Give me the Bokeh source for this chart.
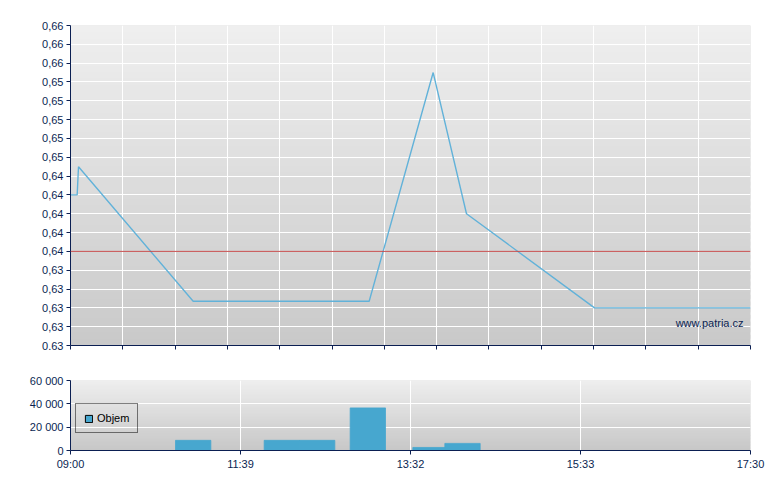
from bokeh.plotting import figure
from bokeh.layouts import column
from bokeh.models import FixedTicker, Span, Label, Legend, LegendItem, Range1d
from bokeh.embed import file_html
from bokeh.resources import INLINE

# ---------------- data ----------------
# time in minutes after 09:00
price_time = [0, 5, 6, 92, 224, 272, 297, 393, 510]
price = [0.642, 0.642, 0.645, 0.6307, 0.6307, 0.655, 0.640, 0.630, 0.630]
prev_close = 0.636

vol_time = [92, 158.5, 185, 223, 270, 294]
volume = [8700, 8700, 8700, 36500, 2600, 6100]
vol_bar_width = 26.5

price_ticks = [0.626, 0.628, 0.630, 0.632, 0.634, 0.636, 0.638, 0.640, 0.642,
               0.644, 0.646, 0.648, 0.650, 0.652, 0.654, 0.656, 0.658, 0.660]
price_tick_labels = ["0.63", "0,63", "0,63", "0,63", "0,63", "0,64", "0,64", "0,64", "0,64",
                     "0,64", "0,65", "0,65", "0,65", "0,65", "0,65", "0,66", "0,66", "0,66"]

vol_ticks = [0, 20000, 40000, 60000]
vol_tick_labels = ["0", "20 000", "40 000", "60 000"]

time_ticks = [0, 127.5, 255, 382.5, 510]
time_tick_labels = ["09:00", "11:39", "13:32", "15:33", "17:30"]

T0, T1 = 0, 510
P0, P1 = 0.626, 0.660
V0, V1 = 0, 60000

# ---------------- style ----------------
FONT = "Liberation Sans"
NAVY = "#0B1F52"
LINE_C = "#62B2D9"
BAR_C = "#47A7CF"
RED_C = "#C44C4C"


def hexmix(c1, c2, t):
    a = [int(c1[i:i + 2], 16) for i in (1, 3, 5)]
    b = [int(c2[i:i + 2], 16) for i in (1, 3, 5)]
    return "#%02x%02x%02x" % tuple(round(a[k] + (b[k] - a[k]) * t) for k in range(3))


def add_gradient(p, y0, y1, c_top, c_bot, n=48):
    h = (y1 - y0) / n
    bottoms, tops, colors = [], [], []
    for i in range(n):
        b = y0 + i * h
        bottoms.append(b)
        tops.append(min(y1, b + h * 1.6))
        colors.append(hexmix(c_bot, c_top, (i + 0.5) / n))
    r = p.quad(left=T0, right=T1, bottom=bottoms, top=tops, fill_color=colors,
               line_color=None)
    r.level = "image"


def style_axes(p):
    for ax in (p.xaxis[0], p.yaxis[0]):
        ax.axis_line_color = NAVY
        ax.axis_line_width = 1
        ax.major_tick_line_color = NAVY
        ax.major_tick_in = 0
        ax.major_tick_out = 4
        ax.minor_tick_line_color = None
        ax.major_label_text_font = FONT
        ax.major_label_text_font_size = "11px"
        ax.major_label_text_color = NAVY
        ax.major_label_standoff = 3
    p.xgrid.grid_line_color = "white"
    p.ygrid.grid_line_color = "white"
    p.xgrid.grid_line_width = 1
    p.ygrid.grid_line_width = 1
    p.outline_line_color = None
    p.background_fill_color = "#dddddd"
    p.border_fill_color = "white"


# ---------------- price chart ----------------
p1 = figure(frame_width=680, frame_height=320, output_backend="svg", toolbar_location=None,
            x_range=Range1d(T0, T1), y_range=Range1d(P0, P1),
            min_border_left=70, min_border_right=22, min_border_top=25, min_border_bottom=17)
add_gradient(p1, P0, P1, "#efefef", "#c9c9c9")
style_axes(p1)
p1.xaxis.ticker = FixedTicker(ticks=[T1 * i / 13 for i in range(14)])
p1.xaxis.major_label_text_color = None
p1.yaxis.ticker = FixedTicker(ticks=price_ticks)
p1.yaxis.major_label_overrides = {t: l for t, l in zip(price_ticks, price_tick_labels)}

p1.line(price_time, price, line_color=LINE_C, line_width=1.4)
p1.add_layout(Span(location=prev_close, dimension="width", line_color=RED_C, line_width=1))
p1.add_layout(Label(x=T1, y=P0, x_offset=-7, y_offset=17, text="www.patria.cz",
                    text_align="right", text_baseline="bottom", text_font=FONT,
                    text_font_size="11px", text_color=NAVY))

# ---------------- volume chart ----------------
p2 = figure(frame_width=680, frame_height=70, output_backend="svg", toolbar_location=None,
            x_range=Range1d(T0, T1), y_range=Range1d(V0, V1),
            min_border_left=70, min_border_right=22, min_border_top=18, min_border_bottom=30)
add_gradient(p2, V0, V1, "#eeeeee", "#c7c7c7")
style_axes(p2)
p2.xaxis.ticker = FixedTicker(ticks=time_ticks)
p2.xaxis.major_label_overrides = {t: l for t, l in zip(time_ticks, time_tick_labels)}
p2.yaxis.ticker = FixedTicker(ticks=vol_ticks)
p2.yaxis.major_label_overrides = {t: l for t, l in zip(vol_ticks, vol_tick_labels)}

p2.vbar(x=vol_time, top=volume, width=vol_bar_width, fill_color=BAR_C,
        line_color=BAR_C, line_width=0.8)
# legend proxy: same data, outlined, not drawn in the plot itself
proxy = p2.vbar(x=vol_time, top=volume, width=vol_bar_width, fill_color=BAR_C,
                line_color="black", line_width=1, visible=False)
legend = Legend(items=[LegendItem(label="Objem", renderers=[proxy])], location=(5, 17),
                border_line_color="black", border_line_width=1, background_fill_alpha=0,
                label_text_font=FONT, label_text_font_size="11px", label_text_color="black",
                glyph_width=9, glyph_height=9, padding=8, margin=0, label_standoff=4,
                label_height=12)
p2.add_layout(legend)

layout = column(p1, p2, spacing=0)
open("out.html", "w").write(file_html(layout, INLINE))
